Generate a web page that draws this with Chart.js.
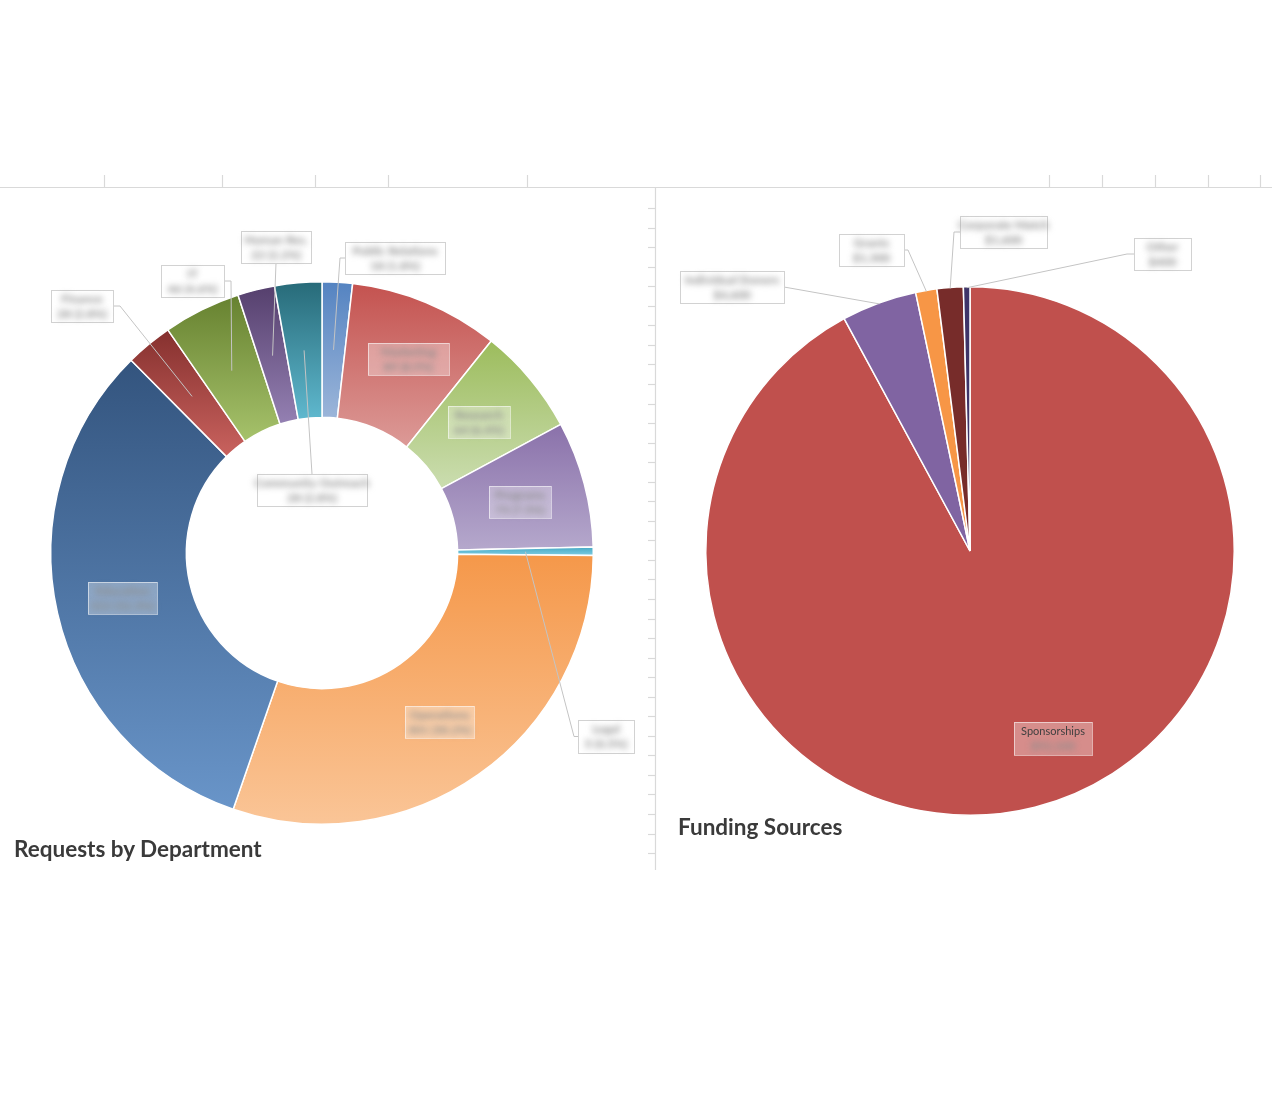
<!DOCTYPE html>
<html><head><meta charset="utf-8">
<script src="https://cdn.jsdelivr.net/npm/chart.js@4.4.1/dist/chart.umd.min.js"></script>
<style>
html,body{margin:0;padding:0;background:#fff;width:1272px;height:1116px;overflow:hidden;}
#bg{position:absolute;left:0;top:0;}
canvas{position:absolute;}
.title{position:absolute;font-family:Lato,sans-serif;font-weight:700;font-size:22.5px;line-height:22px;color:#3a3a3a;white-space:nowrap;}
</style></head><body>
<svg id="bg" width="1272" height="1116" xmlns="http://www.w3.org/2000/svg"></svg>
<canvas id="dept" width="650" height="700" style="left:0;top:190px;width:650px;height:700px"></canvas>
<canvas id="fund" width="612" height="700" style="left:660px;top:190px;width:612px;height:700px"></canvas>
<div class="title" style="left:14px;top:838px">Requests by Department</div>
<div class="title" style="left:678px;top:816px">Funding Sources</div>
<script>
// ---- data ----
const deptLabels = ['Public Relations','Marketing','Research','Programs','Legal','Operations','Education','Finance','IT','Human Res.','Community Outreach'];
const deptValues = [18, 89, 64, 75, 5, 301, 322, 28, 46, 22, 28];
const fundLabels = ['Sponsorships','Individual Donors','Grants','Corporate Match','Other'];
const fundValues = [92100, 4600, 1300, 1600, 400];

// ---- styles ----
const deptTop    = ['#5483c1','#c4524f','#9cbc5c','#8a71aa','#45a8c3','#f5984a','#33547e','#85302e','#66812f','#553f6d','#276a78'];
const deptBottom = ['#9bb5d9','#dc9a97','#cbddb0','#b5a8cc','#7fcde2','#fac597','#6995c9','#c9625e','#a6c26b','#9480b2','#5fb8ce'];
const fundColors = ['#c0504d','#8064a2','#f79646','#772c2a','#3e3468'];

const deptLayout = [
  {dx:73,   dy:-295, w:100, h:32, side:'left',  stub:5},
  {dx:86.5, dy:-194, w:81,  h:32, inside:true},
  {dx:157,  dy:-131, w:62,  h:32, inside:true},
  {dx:198,  dy:-51,  w:62,  h:32, inside:true},
  {dx:284,  dy:183.5,w:56,  h:33, side:'left',  stub:4},
  {dx:117.5,dy:169,  w:69,  h:32, inside:true},
  {dx:-199.5,dy:45,  w:69,  h:32, inside:true},
  {dx:-240, dy:-247, w:62,  h:32, side:'right', stub:7},
  {dx:-129.5,dy:-272,w:63,  h:32, side:'right', stub:7},
  {dx:-46,  dy:-306, w:70,  h:32, side:'bottom'},
  {dx:-10,  dy:-63,  w:110, h:32, side:'top'}
];
const fundLayout = [
  {dx:83,   dy:187.5,w:78,  h:33, inside:true, clearFirst:true},
  {dx:-238, dy:-264, w:104, h:32, side:'right', stub:0},
  {dx:-98.5,dy:-301, w:65,  h:32, side:'right', stub:4},
  {dx:33.5, dy:-319, w:87,  h:32, side:'left',  stub:6},
  {dx:192.5,dy:-297, w:57,  h:32, side:'left',  stub:7}
];

// ---- background sheet lines ----
(function(){
  const svg = document.getElementById('bg');
  const ns = 'http://www.w3.org/2000/svg';
  function line(x1,y1,x2,y2){const l=document.createElementNS(ns,'line');l.setAttribute('x1',x1);l.setAttribute('y1',y1);l.setAttribute('x2',x2);l.setAttribute('y2',y2);l.setAttribute('stroke','#d9d9d9');l.setAttribute('stroke-width','1.2');svg.appendChild(l);}
  line(0,187.5,1272,187.5);
  [104,222,315,388,527,1049,1102,1155,1208,1260].forEach(x=>line(x+0.5,175,x+0.5,187.5));
  line(655.5,188,655.5,870);
  for(let y=208;y<860;y+=19.55) line(648,Math.round(y)+0.5,655.5,Math.round(y)+0.5);
})();

function arcGradient(c, tops, bottoms, cutoutFrac){
  const chart=c.chart, ca=chart.chartArea, i=c.dataIndex;
  if(!ca || i===undefined) return tops[i||0];
  const vals=chart.data.datasets[c.datasetIndex].data;
  const total=vals.reduce((a,b)=>a+b,0);
  let before=0; for(let k=0;k<i;k++) before+=vals[k];
  const a0=-Math.PI/2+2*Math.PI*before/total, a1=a0+2*Math.PI*vals[i]/total;
  const cx=(ca.left+ca.right)/2, cy=(ca.top+ca.bottom)/2, R=Math.min(ca.width,ca.height)/2, r=R*cutoutFrac;
  let minY=Infinity,maxY=-Infinity;
  for(let s=0;s<=64;s++){const a=a0+(a1-a0)*s/64;[r,R].forEach(rr=>{const y=cy+rr*Math.sin(a);minY=Math.min(minY,y);maxY=Math.max(maxY,y);});}
  if(maxY-minY<1) maxY=minY+1;
  const g=chart.ctx.createLinearGradient(0,minY,0,maxY);
  g.addColorStop(0,tops[i]); g.addColorStop(1,bottoms[i]);
  return g;
}

function boxLabels(layout, names, values, anchorMode, fmt){
  return {id:'boxLabels', afterDatasetsDraw(chart){
    const ctx=chart.ctx, meta=chart.getDatasetMeta(0);
    const total=values.reduce((a,b)=>a+b,0);
    meta.data.forEach((arc,i)=>{
      const L=layout[i]; if(!L) return;
      const p=arc.getProps(['x','y','startAngle','endAngle','innerRadius','outerRadius'],true);
      const bx=p.x+L.dx, by=p.y+L.dy, x0=bx-L.w/2, y0=by-L.h/2;
      ctx.save();
      if(!L.inside){
        const a=(p.startAngle+p.endAngle)/2;
        const rad=anchorMode==='mid'?(p.innerRadius+p.outerRadius)/2:p.outerRadius-1;
        const ax=p.x+Math.cos(a)*rad, ay=p.y+Math.sin(a)*rad;
        let sx,sy,ex,ey;
        if(L.side==='left'){sx=x0;sy=by;ex=x0-L.stub;ey=by;}
        else if(L.side==='right'){sx=x0+L.w;sy=by;ex=sx+L.stub;ey=by;}
        else if(L.side==='top'){sx=bx;sy=y0;ex=bx;ey=y0;}
        else {sx=bx;sy=y0+L.h;ex=bx;ey=sy;}
        ctx.strokeStyle='#c4c4c4'; ctx.lineWidth=1;
        ctx.beginPath(); ctx.moveTo(sx,sy); ctx.lineTo(ex,ey); ctx.lineTo(ax,ay); ctx.stroke();
        ctx.fillStyle='#ffffff'; ctx.strokeStyle='#d2d2d2';
      } else {
        ctx.fillStyle='rgba(255,255,255,0.35)'; ctx.strokeStyle='rgba(255,255,255,0.55)';
      }
      ctx.lineWidth=1;
      ctx.fillRect(x0,y0,L.w,L.h);
      ctx.strokeRect(Math.round(x0)+0.5,Math.round(y0)+0.5,Math.round(L.w),Math.round(L.h));
      ctx.textAlign='center'; ctx.textBaseline='middle';
      if(L.clearFirst){
        ctx.fillStyle='#404040';
        ctx.font='11px Lato, sans-serif';
        ctx.fillText(names[i], bx, by-7);
      } else {
        ctx.fillStyle='#8c8c8c';
        ctx.font='bold 12px Lato, sans-serif';
        ctx.filter='blur(3px)';
        ctx.fillText(names[i], bx, by-7);
      }
      ctx.fillStyle='#8c8c8c';
      ctx.font='bold 12px Lato, sans-serif';
      ctx.filter='blur(3px)';
      ctx.fillText(fmt(values[i], total), bx, by+8);
      ctx.restore();
    });
  }};
}

new Chart(document.getElementById('dept'), {
  type:'doughnut',
  data:{labels:deptLabels, datasets:[{data:deptValues,
    backgroundColor:c=>arcGradient(c,deptTop,deptBottom,0.5),
    borderColor:'#ffffff', borderWidth:1.5}]},
  options:{responsive:false, animation:false, events:[], cutout:'50%',
    layout:{padding:{left:50,right:56,top:91,bottom:65}},
    plugins:{legend:{display:false}, tooltip:{enabled:false}}},
  plugins:[boxLabels(deptLayout, deptLabels, deptValues, 'mid', (v,t)=>v+' ('+(v/t*100).toFixed(1)+'%)')]
});

new Chart(document.getElementById('fund'), {
  type:'pie',
  data:{labels:fundLabels, datasets:[{data:fundValues, backgroundColor:fundColors,
    borderColor:'#ffffff', borderWidth:1.5}]},
  options:{responsive:false, animation:false, events:[],
    layout:{padding:{left:45,right:37,top:96,bottom:74}},
    plugins:{legend:{display:false}, tooltip:{enabled:false}}},
  plugins:[boxLabels(fundLayout, fundLabels, fundValues, 'outer', (v,t)=>'$'+v.toLocaleString('en-US'))]
});
</script>
</body></html>
